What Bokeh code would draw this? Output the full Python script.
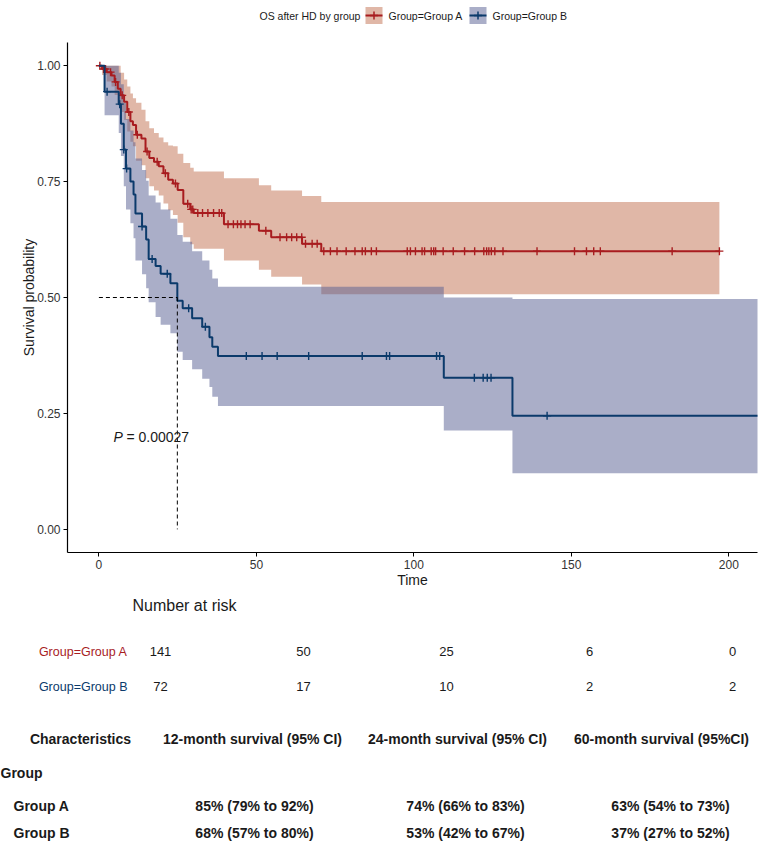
import numpy as np
from bokeh.plotting import figure
from bokeh.models import Range1d, FixedTicker, NumeralTickFormatter, Plot
from bokeh.layouts import column
from bokeh.embed import file_html
from bokeh.resources import INLINE
from bokeh.core.properties import value

FONT = "Liberation Sans"

# ---------------- data ----------------
legend_title = "OS after HD by group"
group_labels = ["Group=Group A", "Group=Group B"]

a_time = [0, 1.0, 2.5, 4.0, 5.0, 6.0, 6.9, 8.0, 9.0, 10.0, 10.8, 11.8, 13.5, 14.8, 16.0, 17.5,
          19.0, 20.5, 22.0, 23.5, 25.0, 26.8, 29.0, 30.1, 39.7, 50.8, 54.7, 64.5, 70.6]
a_surv = [1.000, 0.993, 0.986, 0.979, 0.965, 0.950, 0.936, 0.922, 0.900, 0.880, 0.872, 0.851, 0.843,
          0.815, 0.801, 0.793, 0.783, 0.768, 0.754, 0.746, 0.732, 0.702, 0.690, 0.682, 0.658, 0.644,
          0.630, 0.616, 0.600]
a_upper = [1.000, 1.000, 1.000, 1.000, 1.000, 1.000, 0.985, 0.970, 0.955, 0.940, 0.930, 0.920, 0.905,
           0.880, 0.865, 0.855, 0.845, 0.835, 0.828, 0.826, 0.810, 0.790, 0.780, 0.772, 0.757, 0.742,
           0.731, 0.719, 0.706]
a_lower = [1.000, 0.980, 0.966, 0.955, 0.937, 0.918, 0.900, 0.883, 0.858, 0.836, 0.826, 0.795, 0.785,
           0.757, 0.740, 0.731, 0.720, 0.703, 0.688, 0.678, 0.661, 0.630, 0.615, 0.605, 0.580, 0.560,
           0.545, 0.528, 0.507]
a_end = 197.0
a_censor = [0.3, 1.5, 2.1, 3.7, 5.3, 7.4, 9.5, 12.2, 15.3, 18.5, 21.1, 24.3, 28.2, 29.3, 29.8, 31.4,
            32.9, 34.6, 36.4, 38.2, 39.0, 41.0, 42.7, 44.0, 45.1, 46.4, 48.0, 53.0, 57.5, 59.6, 61.2,
            62.8, 64.4, 65.6, 67.7, 69.3, 71.4, 73.5, 75.6, 78.5, 81.3, 83.6, 84.6, 86.5, 88.1, 97.9,
            98.9, 100.5, 102.6, 103.4, 105.5, 106.3, 106.9, 109.3, 112.5, 116.1, 119.3, 122.2, 123.1,
            123.8, 124.6, 125.7, 128.3, 139.1, 151.0, 154.8, 157.1, 159.2, 182.0, 197.0]

b_time = [0, 1.8, 6.3, 7.0, 7.9, 8.6, 10.0, 11.0, 11.6, 13.7, 15.0, 15.8, 18.0, 19.6, 22.7, 24.9,
          26.6, 29.6, 32.8, 35.1, 36.0, 37.8, 109.5, 131.3]
b_surv = [1.000, 0.944, 0.917, 0.875, 0.819, 0.778, 0.750, 0.722, 0.681, 0.653, 0.625, 0.583, 0.568,
          0.551, 0.531, 0.493, 0.477, 0.455, 0.437, 0.414, 0.394, 0.374, 0.327, 0.245]
b_upper = [1.000, 1.000, 0.985, 0.960, 0.920, 0.885, 0.860, 0.835, 0.800, 0.775, 0.752, 0.720, 0.705,
           0.690, 0.670, 0.635, 0.620, 0.600, 0.580, 0.560, 0.541, 0.523, 0.500, 0.497]
b_lower = [1.000, 0.893, 0.855, 0.805, 0.740, 0.690, 0.660, 0.628, 0.580, 0.550, 0.520, 0.490, 0.458,
           0.441, 0.423, 0.383, 0.365, 0.345, 0.325, 0.307, 0.286, 0.266, 0.213, 0.121]
b_end = 215.0
b_censor = [2.6, 6.6, 7.9, 8.8, 13.7, 16.9, 21.7, 28.5, 33.8, 46.8, 51.8, 56.6, 66.6, 83.6, 91.3,
            92.3, 107.2, 108.2, 119.2, 122.0, 123.3, 124.5, 142.3]

x_ticks = [0, 50, 100, 150, 200]
y_ticks = [0.0, 0.25, 0.5, 0.75, 1.0]

risk_times = [0, 50, 100, 150, 200]
risk_a = [141, 50, 25, 6, 0]
risk_b = [72, 17, 10, 2, 2]
risk_title = "Number at risk"

p_value = "0.00027"

table_header = ["Characteristics", "12-month survival (95% CI)", "24-month survival (95% CI)",
                "60-month survival (95%CI)"]
table_section = "Group"
table_groups = ["Group A", "Group B"]
surv_12 = ["85% (79% to 92%)", "68% (57% to 80%)"]
surv_24 = ["74% (66% to 83%)", "53% (42% to 67%)"]
surv_60 = ["63% (54% to 73%)", "37% (27% to 52%)"]

# ---------------- style ----------------
RED = "#A81C1F"
BLUE = "#0B3A6B"
RED_FILL = "#C16F4F"
BLUE_FILL = "#555D91"
FILL_ALPHA = 0.5
TXT = "#1a1a1a"
W = 760
HAS_FA = "frame_align" in Plot.properties()


def no_align(f):
    if HAS_FA:
        f.frame_align = False
    return f


def stepify(t, v, end):
    tt = list(t) + [end]
    xs, ys = [], []
    for i in range(len(v)):
        xs += [tt[i], tt[i + 1]]
        ys += [v[i], v[i]]
    return xs, ys


def at_times(t, v, q):
    idx = np.searchsorted(np.asarray(t), np.asarray(q), side="right") - 1
    return list(np.asarray(v)[idx])


def blank(width, height, xr, yr):
    f = figure(width=width, height=height, x_range=xr, y_range=yr, toolbar_location=None,
               output_backend="svg", min_border=0, min_border_left=0, min_border_right=0,
               min_border_top=0, min_border_bottom=0, x_axis_type=None, y_axis_type=None)
    f.outline_line_color = None
    f.grid.visible = False
    return no_align(f)


# ---------------- legend strip ----------------
LH = 42
leg = blank(W, LH, Range1d(0, W), Range1d(LH, 0))
LY = 15
leg.text(x=[259], y=[LY], text=[legend_title], text_font=value(FONT), text_font_size="10.5px",
         text_align="left", text_baseline="middle", text_color=TXT)
for (bx, tx, lab, lc, fc) in [(365, 388, group_labels[0], RED, RED_FILL),
                              (469, 492, group_labels[1], BLUE, BLUE_FILL)]:
    leg.quad(left=[bx], right=[bx + 17], top=[LY - 8.5], bottom=[LY + 8.5], fill_color=fc,
             fill_alpha=FILL_ALPHA, line_color=None)
    leg.line(x=[bx, bx + 17], y=[LY, LY], line_color=lc, line_width=2)
    leg.scatter(x=[bx + 8.5], y=[LY], marker="cross", size=8, line_color=lc, line_width=1.5)
    leg.text(x=[tx], y=[LY], text=[lab], text_font=value(FONT), text_font_size="10.5px",
             text_align="left", text_baseline="middle", text_color=TXT)

# ---------------- KM plot ----------------
p = figure(width=W, height=550, x_range=Range1d(-9.97, 209.1), y_range=Range1d(-0.05, 1.05),
           toolbar_location=None, output_backend="svg", min_border_left=67, min_border_right=3,
           min_border_top=0, min_border_bottom=40)
no_align(p)
p.outline_line_color = None
p.grid.visible = False

for (t, up, lo, end, fc) in [(a_time, a_upper, a_lower, a_end, RED_FILL),
                             (b_time, b_upper, b_lower, b_end, BLUE_FILL)]:
    xs, ylo = stepify(t, lo, end)
    _, yhi = stepify(t, up, end)
    p.varea(x=xs, y1=ylo, y2=yhi, fill_color=fc, fill_alpha=FILL_ALPHA)

for (t, s, end, cens, lc) in [(a_time, a_surv, a_end, a_censor, RED),
                              (b_time, b_surv, b_end, b_censor, BLUE)]:
    xs, ys = stepify(t, s, end)
    p.line(xs, ys, line_color=lc, line_width=2)
    p.scatter(cens, at_times(t, s, cens), marker="cross", size=8, line_color=lc, line_width=1.4)

# median survival of group B
b_med = b_time[next(i for i, v in enumerate(b_surv) if v <= 0.5)]
p.line([0, b_med], [0.5, 0.5], line_color="black", line_width=1, line_dash="4 3")
p.line([b_med, b_med], [0.5, 0], line_color="black", line_width=1, line_dash="4 3")

# p value
p.text(x=[4.6], y=[0.2], text=["P"], text_font=value(FONT), text_font_size="14px",
       text_font_style="italic", text_align="left", text_baseline="middle", text_color=TXT)
p.text(x=[4.6], y=[0.2], x_offset=13, text=["= " + p_value], text_font=value(FONT),
       text_font_size="14px", text_align="left", text_baseline="middle", text_color=TXT)

p.xaxis.ticker = FixedTicker(ticks=x_ticks)
p.yaxis.ticker = FixedTicker(ticks=y_ticks)
p.yaxis.formatter = NumeralTickFormatter(format="0.00")
p.xaxis.axis_label = "Time"
p.yaxis.axis_label = "Survival probability"
for ax in (p.xaxis, p.yaxis):
    ax.axis_line_color = "black"
    ax.axis_line_width = 1.2
    ax.major_tick_line_color = "black"
    ax.major_tick_out = 4
    ax.major_tick_in = 0
    ax.minor_tick_line_color = None
    ax.major_label_text_font = FONT
    ax.major_label_text_font_size = "12px"
    ax.major_label_text_color = "#333333"
    ax.axis_label_text_font = FONT
    ax.axis_label_text_font_size = "14px"
    ax.axis_label_text_font_style = "normal"
    ax.axis_label_text_color = TXT
p.xaxis.major_label_standoff = 3
p.yaxis.major_label_standoff = 3
p.xaxis.axis_label_standoff = 0
p.yaxis.axis_label_standoff = -3

# ---------------- risk table ----------------
RH = 113
rk = blank(W, RH, Range1d(-55.94, 209.79), Range1d(RH, 0))
rk.text(x=[risk_times[0]], y=[13], x_offset=-28, text=[risk_title], text_font=value(FONT),
        text_font_size="16px", text_align="left", text_baseline="middle", text_color=TXT)
for (row_y, counts, lab, col) in [(59, risk_a, group_labels[0], RED), (94, risk_b, group_labels[1], BLUE)]:
    rk.text(x=risk_times, y=[row_y] * len(risk_times), text=[str(c) for c in counts],
            text_font=value(FONT), text_font_size="13px", text_align="center",
            text_baseline="middle", text_color=TXT)
    rk.text(x=[risk_times[0]], y=[row_y], x_offset=-33, text=[lab], text_font=value(FONT),
            text_font_size="12.5px", text_align="right", text_baseline="middle", text_color=col)

# ---------------- survival table ----------------
TH = 142
tb = blank(W, TH, Range1d(0, W), Range1d(TH, 0))
bold = dict(text_font=value(FONT), text_font_size="14px", text_font_style="bold",
            text_baseline="middle", text_color=TXT)
tb.text(x=[80, 252, 457, 661], y=[33] * 4, text=table_header, text_align="center", **bold)
tb.text(x=[0], y=[67], text=[table_section], text_align="left", **bold)
tb.text(x=[13, 13], y=[100, 127], text=table_groups, text_align="left", **bold)
for cx, vals in [(254, surv_12), (465, surv_24), (670, surv_60)]:
    tb.text(x=[cx, cx], y=[100, 127], text=vals, text_align="center", **bold)

if HAS_FA:
    html = file_html(column(leg, p, rk, tb, spacing=0), INLINE)
else:
    html = file_html([leg, p, rk, tb], INLINE)
open("out.html", "w").write(html)
